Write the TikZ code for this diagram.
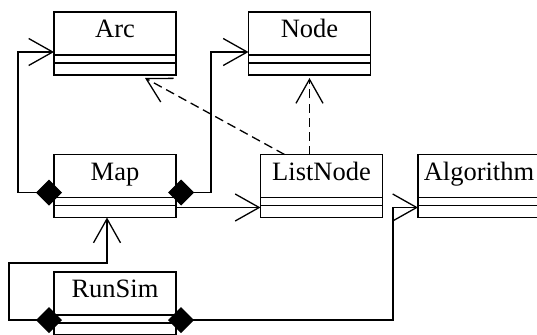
\documentclass[tikz,border=0pt]{standalone}
\usepackage{fontspec}
\setmainfont{Liberation Serif}
\usetikzlibrary{arrows.meta,positioning}

\begin{document}
\begin{tikzpicture}[x=1pt,y=-1pt,>={Straight Barb[length=24pt,width=27pt]},
	cname/.style={draw,line width=1.6pt,outer sep=0pt,inner sep=0pt,minimum width=122pt,minimum height=43pt,
		text height=18pt,text depth=10pt,font=\fontsize{26.5}{30}\selectfont},
	crest/.style={draw,line width=1.6pt,outer sep=0pt,inner sep=0pt,minimum width=122pt,minimum height=20pt,
		path picture={\draw[line width=1.6pt] ([yshift=-8pt]path picture bounding box.north west) -- ([yshift=-8pt]path picture bounding box.north east);}},
	conn/.style={line width=1.3pt},
	comp/.style={conn,{Diamond[length=26pt,width=26pt]}->},
	dep/.style={conn,->,dash pattern=on 9pt off 5pt}]
				\useasboundingbox (0,0) rectangle (537,334);
				
				\node[cname] (arcn) at (115,33.5) {Arc};
				\node[crest,below=0pt of arcn] (arcb) {};
				\node[cname] (noden) at (309.5,33.5) {Node};
				\node[crest,below=0pt of noden] (nodeb) {};
				\node[cname] (mapn) at (115,176) {Map};
				\node[crest,below=0pt of mapn] (mapb) {};
				\node[cname] (listn) at (321.5,176) {ListNode};
				\node[crest,below=0pt of listn] (listb) {};
				\node[cname] (algn) at (479,176) {Algorithm};
				\node[crest,below=0pt of algn] (algb) {};
				\node[cname] (runn) at (115,293.5) {RunSim};
				\node[crest,below=0pt of runn] (runb) {};
				
				\draw[comp] ([xshift=8pt,yshift=5pt]mapn.south west) -- ++(-44,0) |- ([yshift=3pt]arcn.south west);
				\draw[comp] ([xshift=-8pt,yshift=5pt]mapn.south east) -- ++(43,0) |- ([yshift=3pt]noden.south west);
				\draw[conn,->] (mapb.east) -- (listb.west);
				\draw[dep] ([xshift=24pt]listn.north west) -- ([xshift=30pt,yshift=-3pt]arcb.south);
				\draw[dep] (listn.north -| nodeb.south) -- ([yshift=-3pt]nodeb.south);
				\draw[comp] ([xshift=8pt,yshift=-5pt]runn.south west) -- ++(-53,0) -- ++(0,-57) -| ([xshift=-8pt]mapb.south);
				\draw[comp] ([xshift=-8pt,yshift=-5pt]runn.south east) -- ++(225,0) |- (algb.west);
	\end{tikzpicture}
\end{document}
